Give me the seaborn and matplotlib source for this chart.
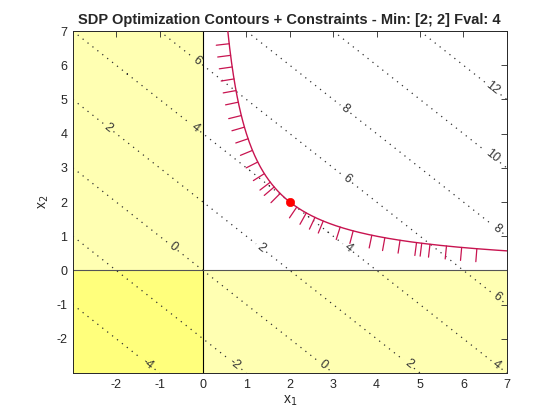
import matplotlib
matplotlib.use("Agg")
import matplotlib.pyplot as plt
import seaborn as sns
import numpy as np
import pandas as pd

# objective f = x1 + x2, constraint x1*x2 >= 4, x1 >= 0, x2 >= 0
levels = [-4, -2, 0, 2, 4, 6, 8, 10, 12]
x_min, x_max = -3, 7
y_min, y_max = -3, 7
x_ticks = [-2, -1, 0, 1, 2, 3, 4, 5, 6, 7]
y_ticks = [-2, -1, 0, 1, 2, 3, 4, 5, 6, 7]
opt_point = [2, 2]
fval = 4

# contour label positions
label_pos = [(-0.16, 6.1), (-2.2, 4.15), (-0.2, 4.15), (-0.7, 0.7),
             (3.27, 4.7), (3.3, 2.65), (1.34, 0.66), (3.34, 0.66),
             (6.66, 5.3), (6.64, 3.3), (6.77, 1.2), (6.77, -0.8),
             (6.75, -2.78), (4.72, -2.78), (2.76, -2.8), (0.7, -2.78),
             (-1.3, -2.78)]

# hatch marks along x1*x2 = 4 (steep part given by x2, flat part by x1)
hatch_x2 = [6.63, 6.29, 5.95, 5.6, 5.26, 4.92, 4.53, 4.19, 3.85, 3.51,
            3.17, 2.83, 2.58, 2.44, 2.25]
hatch_x1 = [2.16, 2.38, 2.58, 2.77, 3.16, 3.46, 3.89, 4.19, 4.54, 4.92,
            5.04, 5.23, 5.61, 5.96, 6.31]

sns.set_theme(style="white")
plt.rcParams['font.family'] = ['Liberation Sans', 'DejaVu Sans']
plt.rcParams['axes.unicode_minus'] = False

fig = plt.figure(figsize=(5.6, 4.2), dpi=100)
ax = fig.add_axes([0.13, 0.112, 0.775, 0.814])

# infeasible regions for x1 >= 0 and x2 >= 0
ax.axvspan(x_min, 0, color='#ffff00', alpha=0.3, lw=0, zorder=0)
ax.axhspan(y_min, 0, color='#ffff00', alpha=0.3, lw=0, zorder=0)
ax.axvline(0, color='black', lw=0.8, zorder=1)
ax.axhline(0, color='#555555', lw=0.8, zorder=1)

# objective contours
gx = np.linspace(x_min, x_max, 200)
gy = np.linspace(y_min, y_max, 200)
X1, X2 = np.meshgrid(gx, gy)
F = X1 + X2
cs = ax.contour(X1, X2, F, levels=levels, colors='#333333',
                linewidths=0.9, linestyles=[(0, (1, 4))], zorder=2)
ax.clabel(cs, fmt='%d', fontsize=9, manual=label_pos, inline=True,
          inline_spacing=3)

# constraint curve
cx = np.linspace(4 / y_max, x_max, 300)
curve = pd.DataFrame({'x1': cx, 'x2': 4 / cx})
sns.lineplot(data=curve, x='x1', y='x2', color='#c81450', lw=1.0,
             sort=False, ax=ax, zorder=3)

# hatch marks pointing into infeasible side
px_per_x = 0.775 * 560 / (x_max - x_min)
px_per_y = 0.814 * 420 / (y_max - y_min)
pts = [(4 / v, v) for v in hatch_x2] + [(u, 4 / u) for u in hatch_x1]
for hx, hy in pts:
    # normal in screen space
    nx, ny = -hy * px_per_y, -hx * px_per_x
    n = np.hypot(nx, ny)
    L = 13.0
    dx = nx / n * L / px_per_x
    dy = ny / n * L / px_per_y
    ax.plot([hx, hx + dx], [hy, hy + dy], color='#c81450', lw=0.9, zorder=3)

sns.scatterplot(x=[opt_point[0]], y=[opt_point[1]], color='red', s=36,
                edgecolor='red', zorder=4, ax=ax)

ax.set_xlim(x_min, x_max)
ax.set_ylim(y_min, y_max)
ax.set_xticks(x_ticks)
ax.set_yticks(y_ticks)
ax.tick_params(direction='in', length=4, width=0.6, top=True, right=True,
               labelsize=9, colors='#262626', pad=4)
for s in ax.spines.values():
    s.set_color('#262626')
    s.set_linewidth(0.7)
ax.set_xlabel('x$_1$', fontsize=10, color='#262626', labelpad=2)
ax.set_ylabel('x$_2$', fontsize=10, color='#262626', labelpad=4)
ax.set_title('SDP Optimization Contours + Constraints - Min: [%d; %d] Fval: %d'
             % (opt_point[0], opt_point[1], fval),
             fontsize=10.5, fontweight='bold', pad=5)

fig.savefig('out.png', dpi=100)
